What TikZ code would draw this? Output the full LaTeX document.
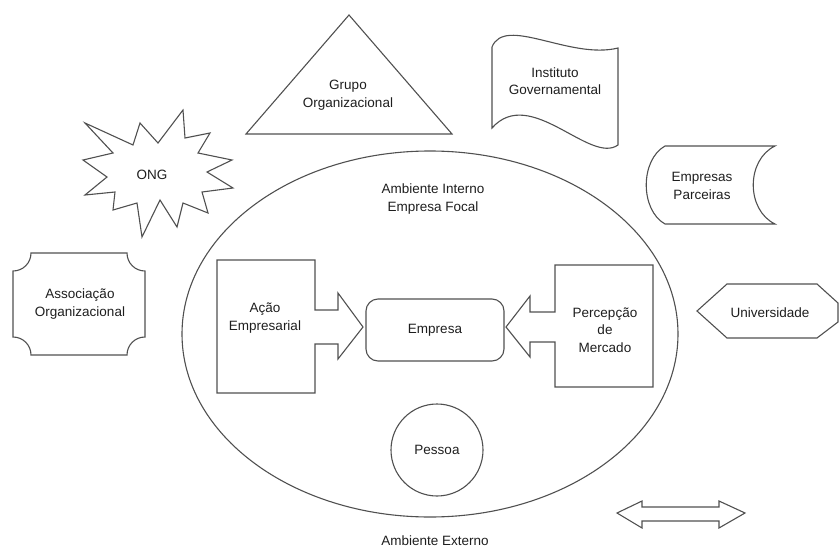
\documentclass[tikz,border=0pt]{standalone}
\usepackage{fontspec}
\setmainfont{Liberation Sans}
\definecolor{linegray}{HTML}{505050}
\definecolor{txtgray}{HTML}{1E1E1E}
\begin{document}
\begin{tikzpicture}[x=1pt,y=-1pt]
\tikzset{
  shp/.style={draw=linegray, line width=1.1pt, line join=miter},
  lbl/.style={align=center, font=\fontsize{13.5}{17.5}\selectfont, inner sep=0pt, text=txtgray}
}
\useasboundingbox (0,0) rectangle (839,549);
\clip (0,0) rectangle (839,549);

% Ambiente interno (ellipse)
\draw[shp] (430,334) ellipse [x radius=248pt, y radius=183pt];
\node[lbl] (interno) at (433,199) {Ambiente Interno\\Empresa Focal};

% Grupo Organizacional (triangle)
\draw[shp] (349,15) -- (452,134) -- (246,134) -- cycle;
\node[lbl] (grupo) at (348,95) {Grupo\\Organizacional};

% Instituto Governamental (wave)
\draw[shp] (492,47) .. controls (505,15) and (570,60) .. (618,48)
  -- (618,145) .. controls (590,165) and (530,85) .. (492,128) -- cycle;
\node[lbl] (instituto) at (555,81) {Instituto\\Governamental};

% ONG (starburst)
\draw[shp] (85,123) -- (133,145) -- (140,123) -- (158,143) -- (183,110) -- (185,138)
  -- (210,133) -- (198,153) -- (232,160) -- (207,172) -- (233,188) -- (202,192)
  -- (208,213) -- (183,203) -- (177,227) -- (160,200) -- (142,237) -- (137,203)
  -- (113,210) -- (115,192) -- (85,195) -- (107,177) -- (83,160) -- (113,153) -- cycle;
\node[lbl] (ong) at (152,175) {ONG};

% Empresas Parceiras (stored data)
\draw[shp] (665,146) -- (775,146) .. controls (746,160) and (746,210) .. (775,224)
  -- (665,224) .. controls (640,210) and (640,160) .. (665,146) -- cycle;
\node[lbl] (parceiras) at (702,186) {Empresas\\Parceiras};

% Associacao Organizacional (plaque)
\draw[shp] (31,253) -- (127,253) .. controls (127,263) and (135,271) .. (145,271)
  -- (145,337) .. controls (135,337) and (127,345) .. (127,355)
  -- (31,355) .. controls (31,345) and (23,337) .. (13,337)
  -- (13,271) .. controls (23,271) and (31,263) .. (31,253) -- cycle;
\node[lbl] (associacao) at (80,304) {Associação\\Organizacional};

% Universidade (display)
\draw[shp] (697,311) -- (727,284) -- (817,284) -- (838,303) -- (838,322) -- (817,338) -- (727,338) -- cycle;
\node[lbl] (universidade) at (770,313) {Universidade};

% Acao Empresarial (block with right arrow)
\draw[shp] (217,260) -- (315,260) -- (315,310) -- (338,310) -- (338,293) -- (363,327)
  -- (338,359) -- (338,344) -- (315,344) -- (315,393) -- (217,393) -- cycle;
\node[lbl] (acao) at (265,318) {Ação\\Empresarial};

% Percepcao de Mercado (block with left arrow)
\draw[shp] (653,265) -- (555,265) -- (555,312) -- (530,312) -- (530,296) -- (506,327)
  -- (530,357) -- (530,342) -- (555,342) -- (555,387) -- (653,387) -- cycle;
\node[lbl] (percepcao) at (605,330) {Percepção\\de\\Mercado};

% Empresa
\node[shp, lbl, rounded corners=12pt, minimum width=138pt, minimum height=62pt] (empresa) at (435,330) {Empresa};

% Pessoa
\node[shp, lbl, circle, minimum size=92pt] (pessoa) at (437,450) {Pessoa};

% Double arrow
\draw[shp] (617,513) -- (642,501) -- (642,507) -- (719,507) -- (719,501) -- (745,513)
  -- (719,528) -- (719,521) -- (642,521) -- (642,528) -- cycle;

% Ambiente externo
\node[lbl] (externo) at (435,541) {Ambiente Externo};
\end{tikzpicture}
\end{document}
